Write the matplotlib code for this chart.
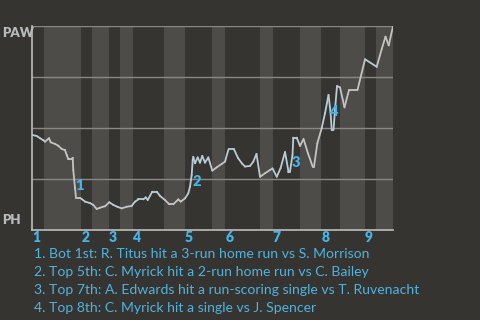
import numpy as np
import matplotlib
matplotlib.use("Agg")
import matplotlib.pyplot as plt
import matplotlib.transforms as mtransforms
from matplotlib.collections import LineCollection

# play index (x) and PAW win probability in % (y)
plays = [0.0, 1.04, 1.77, 2.50, 2.88, 3.77, 4.14, 5.10, 5.83, 6.58, 7.31, 7.69, 8.04, 8.80,
         9.02, 9.15, 9.53, 9.75, 10.64, 11.01, 11.75, 12.86, 13.58, 14.34, 15.07, 15.67,
         16.18, 17.13, 18.02, 18.90, 19.88, 20.99, 22.09, 22.83, 23.56, 24.67, 25.20, 25.64,
         26.66, 27.63, 28.37, 29.47, 30.43, 31.31, 32.42, 32.95, 33.91, 34.64, 35.01, 35.39,
         35.61, 35.75, 36.12, 36.72, 37.23, 37.74, 38.34, 39.07, 39.96, 40.93, 42.04, 42.77,
         43.55, 44.76, 45.65, 46.54, 47.20, 48.31, 49.04, 49.75, 50.53, 51.63, 52.74, 53.30,
         54.23, 55.07, 56.07, 56.84, 57.17, 57.73, 57.91, 58.66, 59.39, 60.17, 61.16, 62.21,
         62.49, 63.23, 64.20, 64.93, 65.71, 66.15, 66.42, 66.81, 67.15, 67.59, 68.26, 69.25,
         70.25, 72.13, 73.80, 76.39, 77.50, 78.34, 79.05, 80.0]
win_prob = [46.6, 46.1, 45.0, 44.0, 43.3, 45.0, 43.0, 42.2, 41.3, 39.7, 39.2, 36.8, 34.7, 34.7,
            35.4, 29.4, 20.6, 15.8, 15.8, 15.2, 13.9, 13.2, 12.3, 10.3, 10.9, 11.4,
            11.6, 13.6, 12.3, 11.4, 10.6, 11.4, 11.8, 13.9, 15.0, 15.0, 16.0, 14.7,
            18.8, 18.8, 16.7, 14.7, 12.6, 12.6, 15.0, 13.9, 15.5, 18.0, 21.2, 27.0,
            34.3, 35.9, 32.7, 35.6, 33.0, 36.3, 33.0, 35.6, 29.1, 30.7, 32.4, 33.5,
            39.6, 39.6, 35.3, 32.6, 31.1, 31.4, 33.5, 37.3, 26.1, 27.8, 29.4, 30.2,
            26.1, 30.2, 38.2, 28.6, 28.6, 36.8, 45.3, 45.3, 41.2, 44.6, 37.6, 31.0,
            31.0, 42.5, 49.9, 57.2, 66.2, 57.8, 49.0, 49.0, 58.8, 70.6, 69.9, 60.1,
            68.6, 68.6, 83.7, 80.0, 88.7, 94.8, 90.5, 99.8]

# half-inning boundaries (play index): top 1st, bot 1st, top 2nd, ...
half_starts = [0, 2.7, 10.9, 13.3, 17.1, 19.5, 22.4, 29.3, 33.9, 39.9, 42.8, 50.5,
               53.4, 59.4, 64.1, 68.3, 73.8, 76.2, 80]
innings = ["1", "2", "3", "4", "5", "6", "7", "8", "9"]

# key events
event_ids = ["1", "2", "3", "4"]
event_x = [10.53, 36.45, 58.5, 66.7]
event_y = [21.6, 23.8, 33.3, 58.1]
event_text = [
    "1. Bot 1st: R. Titus hit a 3-run home run vs S. Morrison",
    "2. Top 5th: C. Myrick hit a 2-run home run vs C. Bailey",
    "3. Top 7th: A. Edwards hit a run-scoring single vs T. Ruvenacht",
    "4. Top 8th: C. Myrick hit a single vs J. Spencer",
]

bg = "#363430"
band = "#4e4c49"
blue = "#45b4ea"

plt.rcParams["font.family"] = ["Lato", "DejaVu Sans"]

fig = plt.figure(figsize=(4.8, 3.2), dpi=100, facecolor=bg)
ax = fig.add_axes([32 / 480, 90 / 320, 361 / 480, 204 / 320])
ax.set_facecolor(bg)
ax.set_xlim(0, 80)
ax.set_ylim(0, 100)

# shaded bottom halves
for i in range(1, len(half_starts) - 1, 2):
    ax.axvspan(half_starts[i], half_starts[i + 1], color=band, lw=0, zorder=0)

for g in [25, 50, 75, 100]:
    ax.axhline(g, color="#8a8884", lw=1, zorder=1)

# win probability line, tint by half inning
pts = np.column_stack([plays, win_prob])
segs = np.stack([pts[:-1], pts[1:]], axis=1)
mids = (pts[:-1, 0] + pts[1:, 0]) / 2
half_idx = np.searchsorted(half_starts, mids, side="right") - 1
cols = ["#b8cdd8" if h % 2 == 0 else "#c4c4c4" for h in half_idx]
lc = LineCollection(segs, colors=cols, linewidths=1.3, zorder=3, capstyle="round", joinstyle="round")
ax.add_collection(lc)

for eid, ex, ey in zip(event_ids, event_x, event_y):
    ax.text(ex, ey, eid, color=blue, fontsize=10.5, fontweight="heavy",
            ha="center", va="center", zorder=4)

for s in ["top", "right"]:
    ax.spines[s].set_visible(False)
for s in ["left", "bottom"]:
    ax.spines[s].set_color("#bdbdbd")
    ax.spines[s].set_linewidth(1.2)
ax.set_xticks([])
ax.set_yticks([])

ax.text(-0.083, 0.966, "PAW", transform=ax.transAxes, color="#b8bcbe",
        fontsize=9.5, fontweight="heavy", ha="left", va="center")
ax.text(-0.083, 0.049, "PH", transform=ax.transAxes, color="#b8bcbe",
        fontsize=9.5, fontweight="heavy", ha="left", va="center")

trans = mtransforms.blended_transform_factory(ax.transData, ax.transAxes)
for k, lab in enumerate(innings):
    ax.text(half_starts[2 * k], -0.039, lab, transform=trans, color=blue,
            fontsize=10, fontweight="heavy", ha="left", va="center")

for k, t in enumerate(event_text):
    fig.text(34 / 480, 1 - (254 + 18 * k) / 320, t, color="#4fb3e0",
             fontsize=10.1, ha="left", va="center")

fig.savefig("out.png", dpi=100, facecolor=bg)
